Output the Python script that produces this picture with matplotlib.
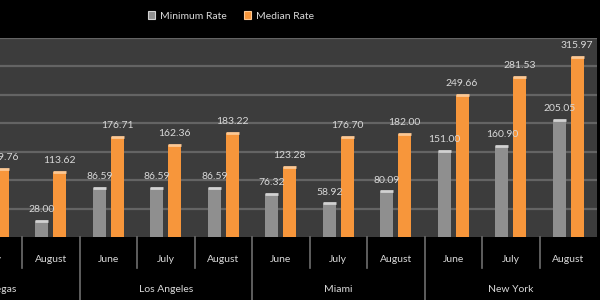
import numpy as np
import matplotlib
matplotlib.use("Agg")
import matplotlib.pyplot as plt
import matplotlib.transforms as mtransforms
from matplotlib.patches import Patch

# ---- data (visible part of the chart) ----
cities = ["Las Vegas", "Las Vegas",
          "Los Angeles", "Los Angeles", "Los Angeles",
          "Miami", "Miami", "Miami",
          "New York", "New York", "New York"]
months = ["July", "August",
          "June", "July", "August",
          "June", "July", "August",
          "June", "July", "August"]
minimum_rate = [np.nan, 28.00,
                86.59, 86.59, 86.59,
                76.32, 58.92, 80.09,
                151.00, 160.90, 205.05]
median_rate = [119.76, 113.62,
               176.71, 162.36, 183.22,
               123.28, 176.70, 182.00,
               249.66, 281.53, 315.97]
series_names = ["Minimum Rate", "Median Rate"]

# ---- style ----
FONT = ["Lato", "DejaVu Sans"]
plt.rcParams['font.family'] = FONT
bg_fig = "#000000"
bg_plot = "#3c3c3c"
grid_c = "#646464"
gray_c = "#8f8f8f"
gray_top = "#d2d2d2"
orange_c = "#f7963b"
orange_top = "#fcc894"
text_c = "#d9d9d9"

fig = plt.figure(figsize=(6, 3), dpi=100, facecolor=bg_fig)
ax = fig.add_axes([0.0, 1 - 237 / 300, 597 / 600, (237 - 38) / 300])
ax.set_facecolor(bg_plot)

x = np.arange(len(months))
w = 0.23
off = 0.155
mins = np.array(minimum_rate, dtype=float)
meds = np.array(median_rate, dtype=float)

ax.bar(x - off, mins, w, color=gray_c, zorder=3)
ax.bar(x + off, meds, w, color=orange_c, zorder=3)
ax.hlines(mins, x - off - w / 2, x - off + w / 2, colors=gray_top, lw=2.0, zorder=4)
ax.hlines(meds, x + off - w / 2, x + off + w / 2, colors=orange_top, lw=2.0, zorder=4)

for xi, v in zip(x - off, mins):
    if not np.isnan(v):
        ax.annotate(f"{v:.2f}", (xi, v), xytext=(0, 5), textcoords="offset points",
                    ha="center", va="bottom", color=text_c, fontsize=7.5, zorder=5,
                    annotation_clip=False)
for xi, v in zip(x + off, meds):
    ax.annotate(f"{v:.2f}", (xi, v), xytext=(0, 5), textcoords="offset points",
                ha="center", va="bottom", color=text_c, fontsize=7.5, zorder=5,
                annotation_clip=False)

ax.set_ylim(0, 350)
ax.set_xlim(0.117, 10.5)
ax.set_yticks(np.arange(50, 351, 50))
ax.yaxis.grid(True, color=grid_c, lw=1.6, zorder=0)
ax.tick_params(left=False, bottom=False, labelleft=False, labelbottom=False)
for s in ax.spines.values():
    s.set_visible(False)

# ---- two-level category axis ----
trans = mtransforms.blended_transform_factory(ax.transData, ax.transAxes)
px = 1.0 / (237 - 38)  # one pixel in axes-fraction (y)
sep_c = "#6e6e6e"
for i, m in enumerate(months):
    ax.text(x[i], -22 * px, m, transform=trans, ha="center", va="center",
            color=text_c, fontsize=7.5, clip_on=False)
    if m == "July":
        ax.text(x[i], -53 * px, cities[i], transform=trans, ha="center", va="center",
                color=text_c, fontsize=7.5, clip_on=False)
    b = x[i] - 0.5
    if m == "June":
        ax.plot([b, b], [0, -70 * px], transform=trans, color=sep_c, lw=1.2, clip_on=False)
    else:
        ax.plot([b, b], [0, -31 * px], transform=trans, color=sep_c, lw=1.2, clip_on=False)

# ---- legend ----
handles = [Patch(facecolor=gray_c, edgecolor=gray_top, lw=0.8),
           Patch(facecolor=orange_c, edgecolor=orange_top, lw=0.8)]
leg = fig.legend(handles, series_names, loc="center", bbox_to_anchor=(0.385, 1 - 16 / 300),
                 ncol=2, frameon=False, fontsize=7.5, handlelength=0.7, handleheight=0.7,
                 handletextpad=0.5, columnspacing=1.6)
for t in leg.get_texts():
    t.set_color(text_c)

fig.savefig("out.png", dpi=100, facecolor=bg_fig)
